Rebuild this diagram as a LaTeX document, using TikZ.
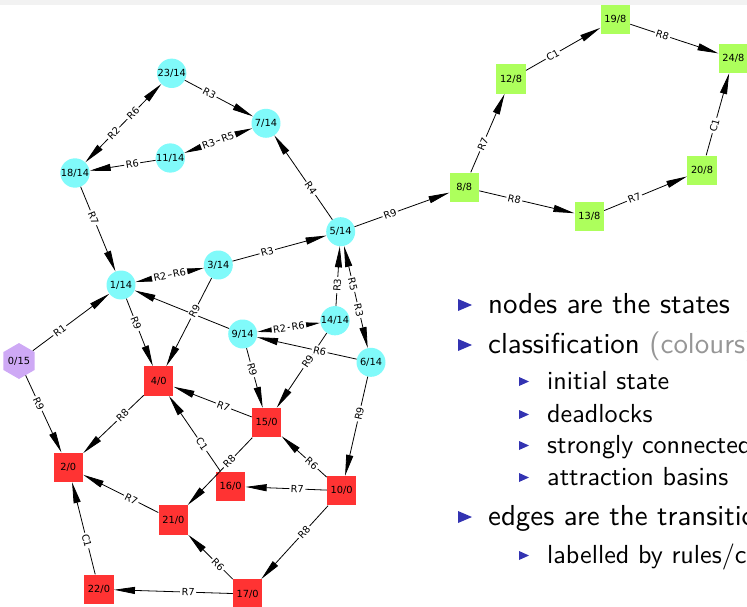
\documentclass[tikz,border=0pt]{standalone}
\usepackage{fontspec}
\newfontfamily\graphfont{DejaVu Sans}
\newfontfamily\itemfont[Extension=.otf]{lmsans10-regular}
\usetikzlibrary{arrows.meta,shapes.geometric}

\definecolor{sccyan}{RGB}{128,250,250}
\definecolor{deadred}{RGB}{255,51,51}
\definecolor{basingreen}{RGB}{173,255,92}
\definecolor{initviolet}{RGB}{206,169,245}
\definecolor{bandgray}{RGB}{242,242,242}
\definecolor{structblue}{RGB}{51,51,178}
\definecolor{notegray}{RGB}{150,150,150}

\newcommand{\grlabelfont}{\graphfont\fontsize{9.8pt}{11pt}\selectfont}
\newcommand{\itemtopfont}{\itemfont\fontsize{28.9pt}{34pt}\selectfont}
\newcommand{\itemsubfont}{\itemfont\fontsize{26.1pt}{31pt}\selectfont}
% label of a transition, placed 0.4 of the way between the two state centres
\newcommand{\translab}[4][0.4]{\path (#2.center) -- node[lab,pos=#1]{#4} (#3.center);}

\tikzset{
  stnode/.style={inner sep=0pt, font=\grlabelfont, text=black},
  sccnode/.style={stnode, circle, fill=sccyan, minimum size=29pt},
  deadnode/.style={stnode, rectangle, fill=deadred, minimum size=29.5pt},
  basinnode/.style={stnode, rectangle, fill=basingreen, minimum size=29.5pt},
  initnode/.style={stnode, regular polygon, regular polygon sides=6,
    shape border rotate=30, fill=initviolet, minimum size=30pt},
  edgeto/.style={line width=0.8pt, -{Triangle[length=21pt,width=7pt]}},
  edgeboth/.style={line width=0.8pt,
    {Triangle[length=21pt,width=7pt]}-{Triangle[length=21pt,width=7pt]}},
  lab/.style={sloped, fill=white, inner sep=1.5pt, font=\grlabelfont},
  toptext/.style={anchor=base west, inner sep=0pt, font=\itemtopfont},
  subtext/.style={anchor=base west, inner sep=0pt, font=\itemsubfont},
}

\begin{document}
\begin{tikzpicture}[x=1pt,y=-1pt]
\useasboundingbox (0,0) rectangle (747,607);
\clip (0,0) rectangle (747,607);
\fill[bandgray] (0,0) rectangle (747,5);

% states of the transition graph
\node[initnode]  (n0)  at (19,361)     {0/15};
\node[sccnode]   (n1)  at (121,285)    {1/14};
\node[sccnode]   (n3)  at (218.3,265)  {3/14};
\node[sccnode]   (n5)  at (340.7,231.7){5/14};
\node[sccnode]   (n6)  at (371,362.3)  {6/14};
\node[sccnode]   (n7)  at (266,123.3)  {7/14};
\node[sccnode]   (n9)  at (242.7,334)  {9/14};
\node[sccnode]   (n11) at (170.3,158)  {11/14};
\node[sccnode]   (n14) at (335,320.7)  {14/14};
\node[sccnode]   (n18) at (75,173)     {18/14};
\node[sccnode]   (n23) at (171.7,73.3) {23/14};
\node[deadnode]  (n2)  at (68.3,467.3) {2/0};
\node[deadnode]  (n4)  at (158.7,381)  {4/0};
\node[deadnode]  (n10) at (341.7,490.7){10/0};
\node[deadnode]  (n15) at (266.7,422.7){15/0};
\node[deadnode]  (n16) at (230.7,486.3){16/0};
\node[deadnode]  (n17) at (247.7,594)  {17/0};
\node[deadnode]  (n21) at (173.3,520)  {21/0};
\node[deadnode]  (n22) at (99,589.3)   {22/0};
\node[basinnode] (n8)  at (464.3,187.3){8/8};
\node[basinnode] (n12) at (511,79)     {12/8};
\node[basinnode] (n13) at (589.3,216.7){13/8};
\node[basinnode] (n19) at (615.3,19.3) {19/8};
\node[basinnode] (n20) at (702,170.3)  {20/8};
\node[basinnode] (n24) at (733.3,58.3) {24/8};

% transitions
\draw[edgeto]   (n23) -- (n7);
\draw[edgeboth] (n18) -- (n23);
\draw[edgeboth] (n11) -- (n7);
\draw[edgeto]   (n11) -- (n18);
\draw[edgeto]   (n5)  -- (n7);
\draw[edgeto]   (n18) -- (n1);
\draw[edgeto]   (n5)  -- (n8);
\draw[edgeto]   (n3)  -- (n5);
\draw[edgeboth] (n1)  -- (n3);
\draw[edgeto]   (n0)  -- (n1);
\draw[edgeto]   (n1)  -- (n4);
\draw[edgeto]   (n9)  -- (n1);
\draw[edgeto]   (n3)  -- (n4);
\draw[edgeto]   (n14) -- (n5);
\draw[edgeboth] (n5)  -- (n6);
\draw[edgeboth] (n9)  -- (n14);
\draw[edgeto]   (n6)  -- (n9);
\draw[edgeto]   (n9)  -- (n15);
\draw[edgeto]   (n14) -- (n15);
\draw[edgeto]   (n6)  -- (n10);
\draw[edgeto]   (n0)  -- (n2);
\draw[edgeto]   (n4)  -- (n2);
\draw[edgeto]   (n15) -- (n4);
\draw[edgeto]   (n16) -- (n4);
\draw[edgeto]   (n15) -- (n21);
\draw[edgeto]   (n10) -- (n15);
\draw[edgeto]   (n10) -- (n16);
\draw[edgeto]   (n21) -- (n2);
\draw[edgeto]   (n22) -- (n2);
\draw[edgeto]   (n17) -- (n21);
\draw[edgeto]   (n10) -- (n17);
\draw[edgeto]   (n17) -- (n22);
\draw[edgeto]   (n8)  -- (n12);
\draw[edgeto]   (n12) -- (n19);
\draw[edgeto]   (n19) -- (n24);
\draw[edgeto]   (n8)  -- (n13);
\draw[edgeto]   (n13) -- (n20);
\draw[edgeto]   (n20) -- (n24);

% rule labels of the transitions
\translab{n23}{n7}{R3}
\translab{n18}{n23}{R2}
\translab{n23}{n18}{R6}
\translab{n11}{n7}{R3}
\translab{n7}{n11}{R5}
\translab{n11}{n18}{R6}
\translab{n5}{n7}{R4}
\translab{n18}{n1}{R7}
\translab{n5}{n8}{R9}
\translab{n3}{n5}{R3}
\translab{n1}{n3}{R2}
\translab{n3}{n1}{R6}
\translab{n0}{n1}{R1}
\translab{n1}{n4}{R9}
\translab{n3}{n4}{R9}
\translab{n14}{n5}{R3}
\translab{n5}{n6}{R5}
\translab{n6}{n5}{R3}
\translab{n9}{n14}{R2}
\translab{n14}{n9}{R6}
\translab{n6}{n9}{R6}
\translab{n9}{n15}{R9}
\translab{n14}{n15}{R9}
\translab{n6}{n10}{R9}
\translab{n0}{n2}{R9}
\translab{n4}{n2}{R8}
\translab{n15}{n4}{R7}
\translab{n16}{n4}{C1}
\translab{n15}{n21}{R8}
\translab{n10}{n15}{R6}
\translab{n10}{n16}{R7}
\translab{n21}{n2}{R7}
\translab{n22}{n2}{C1}
\translab{n17}{n21}{R6}
\translab{n10}{n17}{R8}
\translab{n17}{n22}{R7}
\translab{n8}{n12}{R7}
\translab{n12}{n19}{C1}
\translab{n19}{n24}{R8}
\translab{n8}{n13}{R8}
\translab{n13}{n20}{R7}
\translab{n20}{n24}{C1}

% item list
\fill[structblue] (458,299) -- (472,305) -- (458,311) -- cycle;
\node[toptext] (it1) at (488,313) {nodes are the states};
\fill[structblue] (458,339) -- (472,345) -- (458,351) -- cycle;
\node[toptext] (it2) at (488,353) {classification \textcolor{notegray}{(colours)}};
\fill[structblue] (519,377) -- (529,381.5) -- (519,386) -- cycle;
\node[subtext] (it3) at (547,389) {initial state};
\fill[structblue] (519,410) -- (529,414.5) -- (519,419) -- cycle;
\node[subtext] (it4) at (547,422) {deadlocks};
\fill[structblue] (519,441) -- (529,445.5) -- (519,450) -- cycle;
\node[subtext] (it5) at (547,453) {strongly connected components};
\fill[structblue] (519,473) -- (529,477.5) -- (519,482) -- cycle;
\node[subtext] (it6) at (547,485) {attraction basins};
\fill[structblue] (458,511) -- (472,517) -- (458,523) -- cycle;
\node[toptext] (it7) at (488,525) {edges are the transitions};
\fill[structblue] (519,551) -- (529,555.5) -- (519,560) -- cycle;
\node[subtext] (it8) at (547,563) {labelled by rules/constraints};
\end{tikzpicture}
\end{document}
